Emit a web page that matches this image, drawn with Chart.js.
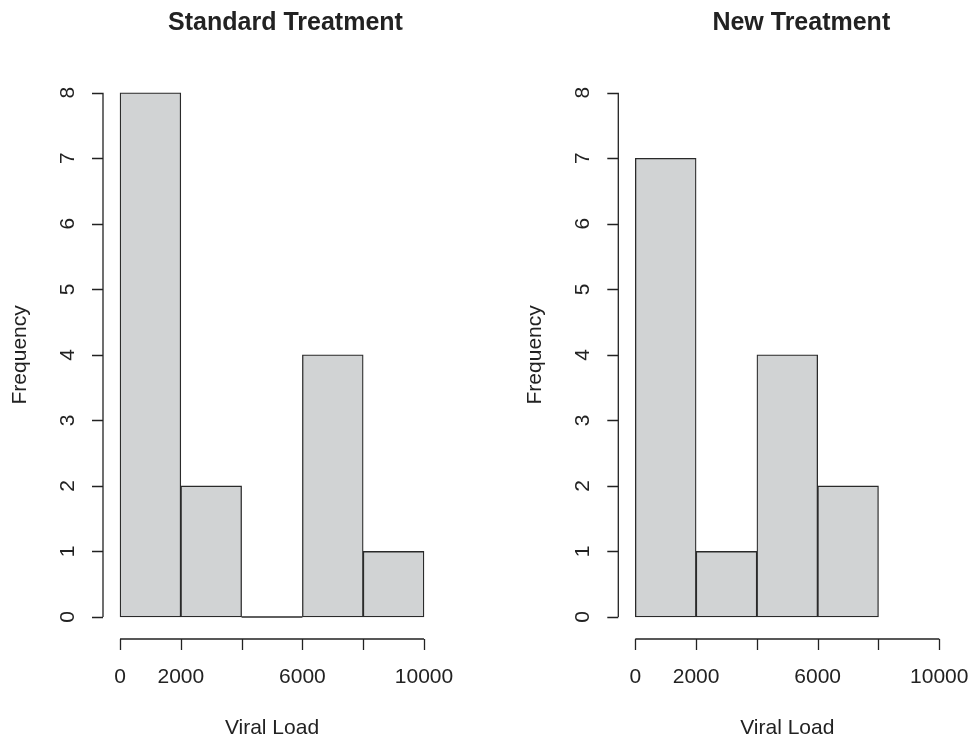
<!DOCTYPE html>
<html>
<head>
<meta charset="utf-8">
<script src="https://cdn.jsdelivr.net/npm/chart.js@4/dist/chart.umd.min.js"></script>
<style>
  html, body { margin: 0; padding: 0; background: #fff; }
  #wrap { position: relative; width: 971px; height: 738px; overflow: hidden; }
  .panel { position: absolute; top: 0; width: 486px; height: 738px; }
</style>
</head>
<body>
<div id="wrap">
  <div class="panel" style="left:0px"><canvas id="standard"></canvas></div>
  <div class="panel" style="left:485px"><canvas id="newtreat"></canvas></div>
</div>
<script>
// histogram bins (midpoints of 2000-wide bins)
const standardBins = [1000, 3000, 5000, 7000, 9000];
const standardCounts = [8, 2, 0, 4, 1];
const newBins = [1000, 3000, 5000, 7000];
const newCounts = [7, 1, 4, 2];

const xTicks = [0, 2000, 4000, 6000, 8000, 10000];
const xTickLabels = ['0', '2000', '', '6000', '', '10000'];
const yTicks = [0, 1, 2, 3, 4, 5, 6, 7, 8];

const titles = ['Standard Treatment', 'New Treatment'];
const xTitle = 'Viral Load';
const yTitle = 'Frequency';

const FONT = '"Liberation Sans", Arial, Helvetica, sans-serif';
const INK = '#222';

// draws R-style axes from the chart scales
const rAxes = {
  id: 'rAxes',
  afterDatasetsDraw(chart) {
    // empty bins still get a flat outline along the baseline, like R
    const ctx = chart.ctx;
    const meta = chart.getDatasetMeta(0);
    ctx.save();
    ctx.strokeStyle = '#2a2a2a';
    ctx.lineWidth = 1.3;
    meta.data.forEach((bar, i) => {
      const v = chart.data.datasets[0].data[i].y;
      if (v === 0) {
        ctx.beginPath();
        ctx.moveTo(bar.x - bar.width / 2, bar.base);
        ctx.lineTo(bar.x + bar.width / 2, bar.base);
        ctx.stroke();
      }
    });
    ctx.restore();
  },
  afterDraw(chart, args, opts) {
    const ctx = chart.ctx;
    const area = chart.chartArea;
    const xs = chart.scales.x;
    const ys = chart.scales.y;
    ctx.save();
    ctx.strokeStyle = INK;
    ctx.fillStyle = INK;
    ctx.lineWidth = 1.3;

    // title
    ctx.font = 'bold 25px ' + FONT;
    ctx.textAlign = 'center';
    ctx.textBaseline = 'middle';
    ctx.fillText(opts.title, (area.left + area.right) / 2 + opts.titleShift, 23);

    // y axis
    const yTop = ys.getPixelForValue(yTicks[yTicks.length - 1]);
    const yBot = ys.getPixelForValue(yTicks[0]);
    ctx.beginPath();
    ctx.moveTo(area.left, yTop);
    ctx.lineTo(area.left, yBot);
    yTicks.forEach(v => {
      const py = Math.round(ys.getPixelForValue(v)) + 0.5;
      ctx.moveTo(area.left, py);
      ctx.lineTo(area.left - 11, py);
    });
    ctx.stroke();
    ctx.font = '21px ' + FONT;
    yTicks.forEach(v => {
      const py = ys.getPixelForValue(v);
      ctx.save();
      ctx.translate(area.left - 35, py);
      ctx.rotate(-Math.PI / 2);
      ctx.fillText(String(v), 0, 0);
      ctx.restore();
    });
    ctx.save();
    ctx.translate(area.left - 83, (area.top + area.bottom) / 2);
    ctx.rotate(-Math.PI / 2);
    ctx.fillText(yTitle, 0, 0);
    ctx.restore();

    // x axis
    const xL = xs.getPixelForValue(xTicks[0]);
    const xR = xs.getPixelForValue(xTicks[xTicks.length - 1]);
    const by = area.bottom;
    ctx.beginPath();
    ctx.moveTo(xL, by);
    ctx.lineTo(xR, by);
    xTicks.forEach(v => {
      const px = Math.round(xs.getPixelForValue(v)) + 0.5;
      ctx.moveTo(px, by);
      ctx.lineTo(px, by + 11);
    });
    ctx.stroke();
    xTicks.forEach((v, i) => {
      ctx.fillText(xTickLabels[i], xs.getPixelForValue(v), by + 38);
    });
    ctx.fillText(xTitle, (area.left + area.right) / 2, by + 89);
    ctx.restore();
  }
};

const makeHist = (id, bins, counts, title, padLeft, padRight, titleShift) => {
  const ctx = document.getElementById(id);
  return new Chart(ctx, {
    type: 'bar',
    data: {
      datasets: [{
        data: bins.map((b, i) => ({ x: b, y: counts[i] })),
        backgroundColor: '#d1d3d4',
        borderColor: '#2a2a2a',
        borderWidth: 1.3,
        barPercentage: 1,
        categoryPercentage: 1,
        borderSkipped: false
      }]
    },
    options: {
      responsive: false,
      animation: false,
      devicePixelRatio: 1,
      layout: { padding: { left: padLeft, right: padRight, top: 70.7, bottom: 99 } },
      plugins: {
        legend: { display: false },
        tooltip: { enabled: false },
        rAxes: { title: title, titleShift: titleShift }
      },
      scales: {
        x: {
          type: 'linear', display: false, min: -560, max: 10560, offset: false,
          afterBuildTicks: (scale) => { scale.ticks = xTicks.map(v => ({ value: v })); }
        },
        y: { type: 'linear', display: false, min: -0.336, max: 8.336 }
      }
    },
    plugins: [rAxes]
  });
};

document.getElementById('standard').width = 486;
document.getElementById('standard').height = 738;
document.getElementById('newtreat').width = 486;
document.getElementById('newtreat').height = 738;

makeHist('standard', standardBins, standardCounts, titles[0], 103, 45, 13.5);
makeHist('newtreat', newBins, newCounts, titles[1], 133.3, 14.7, 14);
</script>
</body>
</html>
